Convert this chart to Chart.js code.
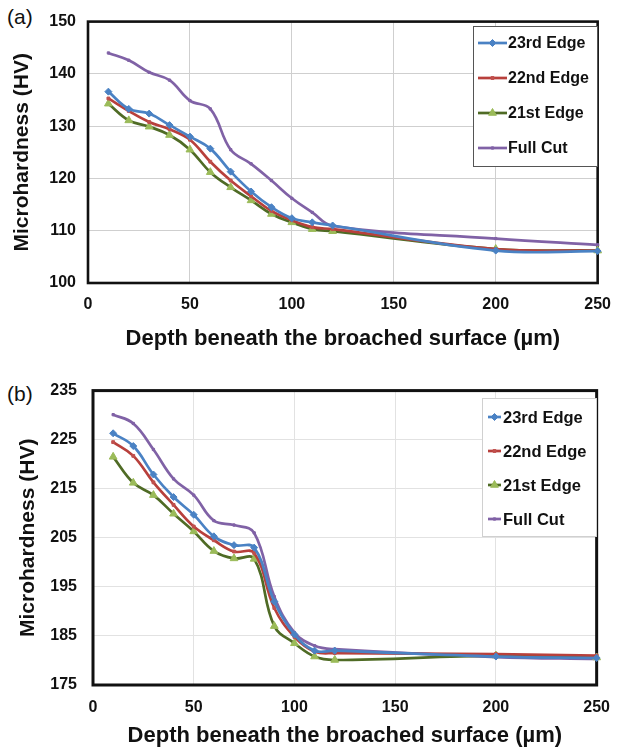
<!DOCTYPE html>
<html>
<head>
<meta charset="utf-8">
<script src="https://cdn.jsdelivr.net/npm/chart.js@4/dist/chart.umd.min.js"></script>
<style>
  html, body { margin: 0; padding: 0; background: #fff; }
  body { width: 623px; height: 752px; position: relative; overflow: hidden; font-family: "Liberation Sans", Arial, sans-serif; }
  canvas { position: absolute; left: 0; }
  #ca { top: 0; }
  #cb { top: 365px; }
  .tag { position: absolute; left: 7px; font-size: 21px; line-height: 21px; color: #111; }
</style>
</head>
<body>
<div class="tag" style="top:6px">(a)</div>
<div class="tag" style="top:383px">(b)</div>
<canvas id="ca" width="623" height="365"></canvas>
<canvas id="cb" width="623" height="387"></canvas>
<script>
// ---------- DATA ----------
const seriesNames = ["23rd Edge", "22nd Edge", "21st Edge", "Full Cut"];
const depth = [10, 20, 30, 40, 50, 60, 70, 80, 90, 100, 110, 120, 200, 250];

// Panel (a)
const a23 = [136.6, 133.3, 132.4, 130.2, 128.0, 125.7, 121.3, 117.5, 114.5, 112.4, 111.6, 111.0, 106.2, 106.1];
const a22 = [135.3, 132.9, 130.8, 129.4, 127.4, 123.2, 119.6, 116.6, 113.8, 112.0, 110.7, 110.3, 106.5, 106.2];
const a21 = [134.3, 131.1, 129.9, 128.3, 125.5, 121.2, 118.3, 115.8, 113.2, 111.6, 110.3, 109.9, 106.5, 106.2];
const aFull = [144.0, 142.6, 140.3, 138.8, 134.9, 133.3, 125.5, 122.8, 119.6, 116.2, 113.5, 110.9, 108.5, 107.3];

// Panel (b)
const b23 = [226.3, 223.7, 217.9, 213.3, 209.7, 205.3, 203.5, 203.0, 192.0, 185.3, 182.0, 182.0, 180.8, 180.5];
const b22 = [224.5, 221.7, 216.3, 211.7, 207.3, 204.5, 202.2, 201.9, 190.7, 184.8, 181.8, 181.5, 181.3, 181.0];
const b21 = [221.5, 216.2, 213.7, 209.9, 206.3, 202.3, 200.8, 200.7, 187.0, 183.5, 180.8, 180.1, 181.0, 180.6];
const bFull = [230.1, 228.3, 223.0, 217.0, 213.7, 208.5, 207.6, 206.0, 193.0, 185.7, 183.0, 182.3, 180.7, 180.3];

const xTitle = "Depth beneath the broached surface (µm)";
const yTitle = "Microhardness (HV)";

// ---------- STYLE ----------
const FONT = "'Liberation Sans', Arial, sans-serif";
const styles = [
  { line: "#4a82c4", fill: "#4a82c4", style: "rectRot", r: 3.5 },
  { line: "#b8403c", fill: "#c0504d", style: "rect", r: 2 },
  { line: "#4f6b25", fill: "#9bbb59", style: "triangle", r: 4.5 },
  { line: "#8062a6", fill: "#8062a6", style: "rect", r: 1.6 }
];

function mkDatasets(arrs) {
  return arrs.map((vals, i) => ({
    label: seriesNames[i],
    data: depth.map((d, k) => ({ x: d, y: vals[k] })),
    borderColor: styles[i].line,
    backgroundColor: styles[i].fill,
    pointBackgroundColor: styles[i].fill,
    pointBorderColor: styles[i].fill,
    pointStyle: styles[i].style,
    pointRadius: styles[i].r,
    pointBorderWidth: 1,
    borderWidth: 2.7,
    tension: 0.4,
    clip: false
  }));
}

const framePlugin = {
  id: 'frame',
  beforeDatasetsDraw(chart, args, o) {
    const { ctx, chartArea: c } = chart;
    ctx.save();
    ctx.strokeStyle = o.color;
    ctx.lineWidth = o.width;
    ctx.strokeRect(c.left, c.top, c.right - c.left, c.bottom - c.top);
    ctx.restore();
  }
};

const legendPlugin = {
  id: 'insideLegend',
  afterDraw(chart, args, o) {
    const ctx = chart.ctx;
    ctx.save();
    ctx.fillStyle = '#fff';
    ctx.fillRect(o.x, o.y, o.w, o.h);
    ctx.strokeStyle = o.border;
    ctx.lineWidth = 1;
    ctx.strokeRect(o.x + 0.5, o.y + 0.5, o.w, o.h);
    ctx.font = o.font;
    ctx.textBaseline = 'middle';
    ctx.textAlign = 'left';
    chart.data.datasets.forEach((ds, i) => {
      const y = o.y + o.first + i * o.gap;
      ctx.strokeStyle = ds.borderColor;
      ctx.lineWidth = ds.borderWidth;
      ctx.beginPath();
      ctx.moveTo(o.lx1, y);
      ctx.lineTo(o.lx2, y);
      ctx.stroke();
      ctx.fillStyle = ds.pointBackgroundColor;
      ctx.strokeStyle = ds.pointBorderColor;
      ctx.lineWidth = 1;
      Chart.helpers.drawPoint(ctx, { pointStyle: ds.pointStyle, radius: ds.pointRadius, rotation: 0, borderWidth: 1 }, (o.lx1 + o.lx2) / 2, y);
      ctx.fillStyle = '#111';
      ctx.fillText(ds.label, o.tx, y + 1);
    });
    ctx.restore();
  }
};

function makeChart(id, arrs, cfg) {
  return new Chart(document.getElementById(id), {
    type: 'line',
    data: { datasets: mkDatasets(arrs) },
    plugins: [framePlugin, legendPlugin],
    options: {
      responsive: false,
      animation: false,
      devicePixelRatio: 1,
      layout: { padding: cfg.padding },
      plugins: {
        legend: { display: false },
        tooltip: { enabled: false },
        frame: { color: '#111', width: cfg.frameW },
        insideLegend: cfg.legend
      },
      scales: {
        x: {
          type: 'linear', min: 0, max: 250,
          ticks: { stepSize: 50, color: '#111', padding: cfg.xTickPad, font: { family: FONT, size: 16, weight: 'bold' } },
          grid: { color: cfg.gridColor, lineWidth: 1, drawTicks: false },
          border: { display: false },
          title: { display: true, text: xTitle, color: '#111', padding: { top: 0, bottom: cfg.xTitlePad }, font: { family: FONT, size: 22, weight: 'bold' } },
          afterFit(s) { s.height = cfg.xH; }
        },
        y: {
          type: 'linear', min: cfg.ymin, max: cfg.ymax,
          ticks: { stepSize: 10, color: '#111', padding: cfg.yTickPad, font: { family: FONT, size: 16, weight: 'bold' } },
          grid: { color: cfg.gridColor, lineWidth: 1, drawTicks: false },
          border: { display: false },
          title: { display: true, text: yTitle, color: '#111', padding: { top: cfg.yTitlePad, bottom: 0 }, font: { family: FONT, size: 21, weight: 'bold' } },
          afterFit(s) { s.width = cfg.yW; }
        }
      }
    }
  });
}

makeChart('ca', [a23, a22, a21, aFull], {
  padding: { left: 0, right: 17, top: 16, bottom: 0 },
  xH: 82, yW: 88, ymin: 100, ymax: 150,
  xTickPad: 12, yTickPad: 12, xTitlePad: 13, yTitlePad: 10,
  gridColor: '#cfcfcf', frameW: 2.6,
  legend: { x: 473, y: 26, w: 124, h: 140, first: 17, gap: 35, lx1: 478, lx2: 507, tx: 508, border: '#555', font: "bold 16px " + FONT }
});

makeChart('cb', [b23, b22, b21, bFull], {
  padding: { left: 0, right: 15, top: 20, bottom: 0 },
  xH: 67, yW: 93, ymin: 175, ymax: 235,
  xTickPad: 13, yTickPad: 16, xTitlePad: 3, yTitlePad: 16,
  gridColor: '#e2e2e2', frameW: 3,
  legend: { x: 482, y: 33, w: 114, h: 138, first: 19, gap: 34, lx1: 488, lx2: 501, tx: 503, border: '#d0d0d0', font: "bold 16.5px " + FONT }
});
</script>
</body>
</html>
